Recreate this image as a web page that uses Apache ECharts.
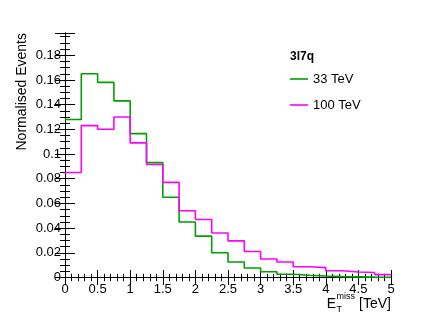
<!DOCTYPE html>
<html>
<head>
<meta charset="utf-8">
<script src="https://cdn.jsdelivr.net/npm/echarts@6/dist/echarts.min.js"></script>
<style>
  html, body { margin: 0; padding: 0; background: #fff; }
  #main { width: 435px; height: 327px; }
</style>
</head>
<body>
<div id="main"></div>
<script>
var myChart = echarts.init(document.getElementById('main'));

// bin edges in TeV
var binEdges = [0, 0.25, 0.5, 0.75, 1, 1.25, 1.5, 1.75, 2, 2.25, 2.5,
  2.75, 3, 3.25, 3.5, 3.75, 4, 4.25, 4.5, 4.75, 5];
var yTicks = [0, 0.02, 0.04, 0.06, 0.08, 0.1, 0.12, 0.14, 0.16, 0.18];
var xTicks = [0, 0.5, 1, 1.5, 2, 2.5, 3, 3.5, 4, 4.5, 5];

var names = ['33 TeV', '100 TeV'];
var tev33 = [0.128, 0.165, 0.158, 0.143, 0.1165, 0.093, 0.065, 0.045, 0.0335, 0.020,
  0.0125, 0.0077, 0.0047, 0.0026, 0.0018, 0.0012, 0.0007, 0.0005, 0.0003, 0.0002];
var tev100 = [0.085, 0.123, 0.120, 0.130, 0.109, 0.0915, 0.077, 0.054, 0.047, 0.036,
  0.0297, 0.021, 0.015, 0.0125, 0.0087, 0.008, 0.0055, 0.0045, 0.004, 0.0023];

function steps(vals) {
  var pts = vals.map(function (v, i) { return [binEdges[i], v]; });
  pts.push([binEdges[binEdges.length - 1], vals[vals.length - 1]]);
  return pts;
}

var font = 'Liberation Sans, Arial, sans-serif';
var black = '#000';

var xBase = {
  type: 'value',
  min: xTicks[0],
  max: xTicks[xTicks.length - 1],
  interval: 0.5,
  axisLine: { lineStyle: { color: black, width: 1 } },
  axisTick: { inside: true, length: 7.5, lineStyle: { color: black } },
  minorTick: { show: true, splitNumber: 5, length: 3.7, lineStyle: { color: black } },
  splitLine: { show: false }
};
var yBase = {
  type: 'value',
  min: yTicks[0],
  max: 0.198,
  interval: 0.02,
  axisLine: { show: true, lineStyle: { color: black, width: 1 } },
  axisTick: { show: true, inside: true, length: 10, lineStyle: { color: black } },
  minorTick: { show: true, splitNumber: 4, length: 5, lineStyle: { color: black } },
  splitLine: { show: false }
};

option = {
  animation: false,
  grid: { left: 65, right: 44, top: 33, bottom: 49.5 },
  xAxis: [
    Object.assign({}, xBase, {
      position: 'bottom',
      axisLabel: { margin: 5, color: black, fontSize: 13, fontFamily: font }
    }),
    Object.assign({}, xBase, { position: 'top', axisLabel: { show: false } })
  ],
  yAxis: [
    Object.assign({}, yBase, {
      position: 'left',
      axisLabel: { margin: 4, color: black, fontSize: 13, fontFamily: font, showMaxLabel: false }
    }),
    Object.assign({}, yBase, { position: 'right', axisLabel: { show: false } })
  ],
  title: {
    text: '3l7q',
    left: 285,
    top: 46,
    textStyle: { fontSize: 12, fontWeight: 'bold', color: black, fontFamily: font }
  },
  legend: {
    data: names,
    orient: 'vertical',
    left: 285,
    top: 67,
    icon: 'rect',
    itemWidth: 18,
    itemHeight: 1.6,
    itemGap: 12,
    textStyle: { fontSize: 13, color: black, fontFamily: font, lineHeight: 14 }
  },
  graphic: [
    {
      type: 'text', x: 22, y: 33, rotation: Math.PI / 2,
      style: { text: 'Normalised Events', fill: black, font: '14px ' + font,
        align: 'right', verticalAlign: 'middle' }
    },
    {
      type: 'text', x: 336, y: 304,
      style: { text: 'E', fill: black, font: '14px ' + font, align: 'right', verticalAlign: 'middle' }
    },
    {
      type: 'text', x: 336.5, y: 297,
      style: { text: 'miss', fill: black, font: '9px ' + font, align: 'left', verticalAlign: 'middle' }
    },
    {
      type: 'text', x: 336.5, y: 310,
      style: { text: 'T', fill: black, font: '9px ' + font, align: 'left', verticalAlign: 'middle' }
    },
    {
      type: 'text', x: 391, y: 304,
      style: { text: '[TeV]', fill: black, font: '14px ' + font, align: 'right', verticalAlign: 'middle' }
    }
  ],
  series: [
    {
      name: names[0],
      type: 'line',
      step: 'end',
      symbol: 'none',
      data: steps(tev33),
      color: '#00a000',
      lineStyle: { width: 1.6 }
    },
    {
      name: names[1],
      type: 'line',
      step: 'end',
      symbol: 'none',
      data: steps(tev100),
      color: '#ff00ff',
      lineStyle: { width: 1.6 }
    }
  ]
};
myChart.setOption(option);
</script>
</body>
</html>
